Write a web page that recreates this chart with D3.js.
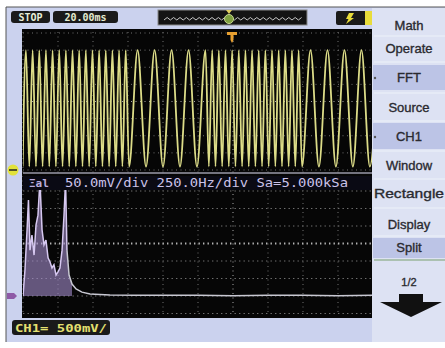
<!DOCTYPE html>
<html><head><meta charset="utf-8">
<script src="https://cdn.jsdelivr.net/npm/d3@7"></script>
<style>html,body{margin:0;padding:0;background:#fff}svg{display:block}</style>
</head><body>
<svg id="scope" width="445" height="348"></svg>
<script>
// CH1 trace turning points (ms) — FSK burst signal, 20 ms/div
const tracePeaks = [1.7, 5.5, 9.3, 13.1, 16.9, 20.7, 24.5, 28.3, 32.1, 35.9, 39.7, 43.5, 47.3, 51.1, 54.9, 58.7,
  65.5, 75.2, 84.9, 94.6, 104.3,
  108.1, 111.9, 115.7, 119.5, 123.3, 127.1, 130.9, 134.7, 138.5, 142.3, 146.1, 149.9, 153.7, 157.5,
  164.3, 174.0, 183.7, 193.4, 203.1];
const traceTroughs = [-0.2, 3.6, 7.4, 11.2, 15.0, 18.8, 22.6, 26.4, 30.2, 34.0, 37.8, 41.6, 45.4, 49.2, 53.0, 56.8, 60.6,
  70.3, 80.0, 89.7, 99.4,
  106.2, 110.0, 113.8, 117.6, 121.4, 125.2, 129.0, 132.8, 136.6, 140.4, 144.2, 148.0, 151.8, 155.6, 159.4,
  169.1, 178.8, 188.5, 198.2];
const peakVolts = 3.5;
const troughVolts = 0.1;

// FFT of CH1: frequency bins (Hz) and magnitudes (mV), 250 Hz/div, 50 mV/div
const fftFreq = [0, 14, 29, 39, 50, 64, 79, 93, 107, 121, 136, 150, 164, 179, 193, 207, 221, 236, 250, 264, 279, 293, 304, 314, 329, 350, 379, 421, 479, 621, 800, 1000, 1250, 1500, 1750, 2000, 2250, 2500];
const fftMag  = [0, 74, 189, 274, 131, 174, 117, 203, 231, 330, 189, 146, 160, 109, 97, 80, 89, 60, 69, 80, 131, 231, 330, 131, 60, 34, 20, 11, 6, 3, 2, 2, 2, 1, 2, 2, 1, 2];

// Soft-key menu
const menuLabels = ["Math", "Operate", "FFT", "Source", "CH1", "Window", "Rectangle", "Display", "Split", "1/2"];
const menuActive = ["FFT", "CH1", "Split"];

// Status readouts
const runState = "STOP";
const timeBase = "20.00ms";
const fftReadout = "50.0mV/div 250.0Hz/div Sa=5.000kSa";
const ch1Readout = "CH1= 500mV/";

const svg = d3.select("#scope");

// frame
svg.append("rect").attr("x", 6).attr("y", 7).attr("width", 439).attr("height", 335).attr("fill", "#cbd2ee");
svg.append("line").attr("x1", 6).attr("x2", 6).attr("y1", 7).attr("y2", 342).attr("stroke", "#555").attr("stroke-width", 1);
svg.append("line").attr("x1", 6).attr("x2", 445).attr("y1", 7).attr("y2", 7).attr("stroke", "#555").attr("stroke-width", 1);

// screen
const sx0 = 22, sx1 = 372, sy0 = 29, sy1 = 318;
svg.append("rect").attr("x", sx0).attr("y", sy0).attr("width", sx1 - sx0).attr("height", sy1 - sy0).attr("fill", "#060606");

// scales
const x = d3.scaleLinear().domain([0, 200]).range([23, 373]);
const yV = d3.scaleLinear().domain([0, 4]).range([170, 33]);
const xF = d3.scaleLinear().domain([0, 2500]).range([23, 373]);
const yM = d3.scaleLinear().domain([0, 300]).range([296, 191]);

// grid
const grid = svg.append("g");
d3.range(0, 201, 20).forEach((t, i) => {
  grid.append("line").attr("x1", x(t)).attr("x2", x(t)).attr("y1", 32).attr("y2", 314)
    .attr("stroke", i === 6 ? "#a8a8a8" : "#707070").attr("stroke-width", 1).attr("stroke-dasharray", "1,3.5");
});
d3.range(0, 4.01, 0.5).forEach(v => {
  grid.append("line").attr("x1", 23).attr("x2", 372).attr("y1", yV(v)).attr("y2", yV(v))
    .attr("stroke", v === 2 ? "#a8a8a8" : "#707070").attr("stroke-dasharray", "1,3.5");
});
d3.range(-50, 301, 50).forEach(m => {
  grid.append("line").attr("x1", 23).attr("x2", 372).attr("y1", yM(m)).attr("y2", yM(m))
    .attr("stroke", m === 150 ? "#b4b4b4" : "#707070").attr("stroke-dasharray", "1.4,3.1")
    .attr("stroke-width", m === 150 ? 1.8 : 1.1);
});

// clips
const defs = svg.append("defs");
defs.append("clipPath").attr("id", "upper").append("rect").attr("x", 23).attr("y", 31).attr("width", 349).attr("height", 141);
defs.append("clipPath").attr("id", "lower").append("rect").attr("x", 23).attr("y", 190).attr("width", 349).attr("height", 125);

// CH1 trace
const pts = tracePeaks.map(t => [t, peakVolts]).concat(traceTroughs.map(t => [t, troughVolts]))
  .sort((a, b) => a[0] - b[0]);
const traceLine = d3.line().x(d => x(d[0])).y(d => yV(d[1])).curve(d3.curveMonotoneX);
svg.append("path").attr("clip-path", "url(#upper)").attr("d", traceLine(pts))
  .attr("fill", "none").attr("stroke", "#dcdc88").attr("stroke-width", 1.8);

// divider between trace and FFT panes
svg.append("line").attr("x1", 23).attr("x2", 372).attr("y1", 173).attr("y2", 173).attr("stroke", "#9a9aa8").attr("stroke-width", 1.5);

// FFT spectrum
const fftPts = fftFreq.map((f, i) => [f, fftMag[i]]);
const fftArea = d3.area().x(d => xF(d[0])).y0(yM(0)).y1(d => yM(d[1]));
svg.append("path").attr("clip-path", "url(#lower)").attr("d", fftArea(fftPts.filter(d => d[0] <= 350)))
  .attr("fill", "#a48ccc").attr("fill-opacity", 0.6);
const fftLine = d3.line().x(d => xF(d[0])).y(d => yM(d[1]));
svg.append("path").attr("clip-path", "url(#lower)").attr("d", fftLine(fftPts.filter(d => d[0] <= 320)))
  .attr("fill", "none").attr("stroke", "#d6c8f0").attr("stroke-width", 1.5);
svg.append("path").attr("clip-path", "url(#lower)").attr("d", fftLine(fftPts.filter(d => d[0] >= 314)))
  .attr("fill", "none").attr("stroke", "#c8c8d2").attr("stroke-width", 1.5);

// FFT readout
svg.append("rect").attr("x", 23).attr("y", 176).attr("width", 349).attr("height", 14).attr("fill", "#0a0a14");
svg.append("text").attr("x", 29).attr("y", 187).text("Ξal")
  .attr("font-family", "DejaVu Sans Mono").attr("font-weight", "bold").attr("font-size", 11).attr("fill", "#b8acdc");
svg.append("text").attr("x", 65).attr("y", 187).text(fftReadout)
  .attr("font-family", "DejaVu Sans Mono").attr("font-size", 11.5).attr("fill", "#cbc2ea")
  .attr("textLength", 283).attr("lengthAdjust", "spacingAndGlyphs");

// channel markers
svg.append("circle").attr("cx", 13).attr("cy", 170).attr("r", 5.5).attr("fill", "#e2e23a");
svg.append("line").attr("x1", 9).attr("x2", 17).attr("y1", 170).attr("y2", 170).attr("stroke", "#222").attr("stroke-width", 1.5);
svg.append("path").attr("d", "M7,293 L14,293 L17,296 L14,299 L7,299 Z").attr("fill", "#8e5aa6");

// top status bar
svg.append("rect").attr("x", 11).attr("y", 11).attr("width", 39).attr("height", 12).attr("rx", 3).attr("fill", "#1a1a1a");
svg.append("text").attr("x", 30.5).attr("y", 21).attr("text-anchor", "middle").text(runState)
  .attr("font-family", "DejaVu Sans Mono").attr("font-weight", "bold").attr("font-size", 10).attr("fill", "#e6ecd8");
svg.append("rect").attr("x", 53).attr("y", 11).attr("width", 65).attr("height", 12).attr("rx", 3).attr("fill", "#1a1a1a");
svg.append("text").attr("x", 85.5).attr("y", 21).attr("text-anchor", "middle").text(timeBase)
  .attr("font-family", "DejaVu Sans Mono").attr("font-weight", "bold").attr("font-size", 10).attr("fill", "#e4ead0");

// memory position bar
svg.append("rect").attr("x", 158).attr("y", 10).attr("width", 149).attr("height", 15).attr("fill", "#141414").attr("stroke", "#888");
const zig = d3.range(164, 302, 3.2).map((v, i) => [v, i % 2 ? 17.5 : 20]);
svg.append("path").attr("d", d3.line()(zig)).attr("fill", "none").attr("stroke", "#c8c8c8").attr("stroke-width", 1);
svg.append("circle").attr("cx", 229).attr("cy", 19).attr("r", 4.5).attr("fill", "#7fa040").attr("stroke", "#c8d890").attr("stroke-width", 1);
svg.append("path").attr("d", "M226,10 L232,10 L229,14 Z").attr("fill", "#e2d060");
// trigger position marker
svg.append("path").attr("d", "M227,32 L237,32 L237,35 L233.5,35 L233.5,40 L232,43 L230.5,40 L230.5,35 L227,35 Z").attr("fill", "#e8a030");

// trigger box
svg.append("rect").attr("x", 336).attr("y", 11).attr("width", 36).attr("height", 14).attr("rx", 2).attr("fill", "#1a1a1a");
svg.append("path").attr("d", "M349,13 L354,13 L351,18 L354,18 L346,24 L348.5,19 L346,19 Z").attr("fill", "#e8dc3a");
svg.append("rect").attr("x", 365).attr("y", 11).attr("width", 7).attr("height", 14).attr("fill", "#e8dc3a");

// bottom readout
svg.append("rect").attr("x", 12).attr("y", 320).attr("width", 98).attr("height", 15).attr("rx", 3).attr("fill", "#1a1a1a");
svg.append("text").attr("x", 15).attr("y", 332).text(ch1Readout)
  .attr("font-family", "DejaVu Sans Mono").attr("font-weight", "bold").attr("font-size", 11).attr("fill", "#e4e070")
  .attr("textLength", 92).attr("lengthAdjust", "spacingAndGlyphs");

// soft-key menu
const menu = svg.append("g");
menu.append("rect").attr("x", 372).attr("y", 8).attr("width", 73).attr("height", 334).attr("fill", "#dde2f3");
const itemY = [25, 48, 77, 107, 136, 165, 193, 224, 247, 281];
const bandY = {"FFT": [65, 90], "CH1": [123, 149], "Split": [238, 258]};
menuLabels.forEach(lab => {
  if (menuActive.includes(lab)) {
    const b = bandY[lab];
    menu.append("rect").attr("x", 373).attr("y", b[0]).attr("width", 72).attr("height", b[1] - b[0]).attr("fill", "#bcc4e6");
  }
});
[36, 62, 93, 121, 151, 179, 208, 236, 260].forEach(y => {
  menu.append("line").attr("x1", 374).attr("x2", 445).attr("y1", y).attr("y2", y).attr("stroke", y === 260 ? "#7aa070" : "#eef1fa").attr("stroke-width", 1.2);
});
menuLabels.forEach((lab, i) => {
  menu.append("text").attr("x", 409).attr("y", itemY[i] + 4.5).attr("text-anchor", "middle").text(lab)
    .attr("font-family", "Liberation Sans, Arial, sans-serif").attr("font-size", lab === "1/2" ? 11 : 13)
    .attr("fill", "#2a2a30").attr("stroke", "#2a2a30").attr("stroke-width", 0.35)
    .attr("textLength", lab === "Rectangle" ? 70 : null).attr("lengthAdjust", "spacingAndGlyphs");
});
menu.append("circle").attr("cx", 375).attr("cy", 78).attr("r", 1.2).attr("fill", "#555");
menu.append("circle").attr("cx", 375).attr("cy", 137).attr("r", 1.2).attr("fill", "#555");
menu.append("path").attr("d", "M399,294 L423,294 L423,302 L442,302 L411,317 L380,302 L399,302 Z").attr("fill", "#111");
</script>
</body></html>
